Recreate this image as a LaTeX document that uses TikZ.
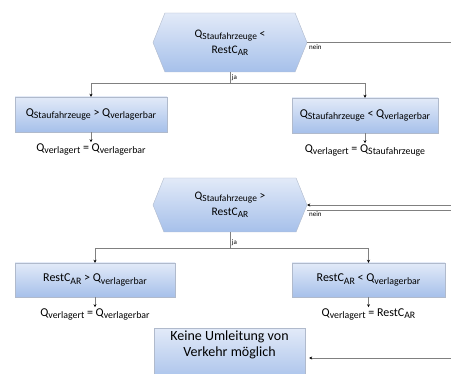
\documentclass[tikz,border=0pt]{standalone}
\usepackage{fontspec}
\setmainfont{Carlito}
\usetikzlibrary{arrows.meta, positioning, shapes.symbols, calc}
\definecolor{boxTop}{RGB}{226,234,248}
\definecolor{boxBot}{RGB}{166,192,234}
\definecolor{boxEdge}{RGB}{176,186,204}
\definecolor{lineGrey}{RGB}{128,128,128}
\makeatletter
\newcommand{\lowidx}[1]{\raisebox{-0.2em}{\fontsize{\the\dimexpr 0.82\dimexpr\f@size pt\relax\relax}{0pt}\selectfont #1}}
\makeatother

\begin{document}
\begin{tikzpicture}[
    x=1pt, y=1pt,
    cond/.style={signal, signal to=west and east, signal pointer angle=136, draw=boxEdge, top color=boxTop, bottom color=boxBot, minimum width=154pt, minimum height=57pt, align=center, inner sep=0pt, font=\fontsize{11.5}{16}\selectfont},
    block/.style={rectangle, draw=boxEdge, top color=boxTop, bottom color=boxBot, minimum height=35pt, align=center, inner sep=0pt, font=\fontsize{12}{14}\selectfont},
    result/.style={inner sep=1pt, font=\fontsize{12}{14}\selectfont},
    tag/.style={inner sep=1.5pt, font=\fontsize{7}{8}\selectfont},
    wire/.style={draw=lineGrey, line width=0.8pt},
    arrow/.style={wire, -{Stealth[length=3pt, width=3pt, color=black]}}
]
\clip (0,0) rectangle (451,374);

% First check
\node[cond, minimum height=59pt] (chkA) at (230,331.5) {Q\lowidx{Staufahrzeuge} <\\RestC\lowidx{AR}};

% Cases of the first check
\node[block, minimum width=152pt] (big1) at (91,259.5) {Q\lowidx{Staufahrzeuge} > Q\lowidx{verlagerbar}};
\node[block, minimum width=146pt] (small1) at (365,258.5) {Q\lowidx{Staufahrzeuge} < Q\lowidx{verlagerbar}};
\node[result, below=10pt of big1] (res1) {Q\lowidx{verlagert} = Q\lowidx{verlagerbar}};
\node[result, below=10pt of small1] (res2) {Q\lowidx{verlagert} = Q\lowidx{Staufahrzeuge}};

% Second check
\node[cond, minimum height=54pt] (chkB) at (230,169) {Q\lowidx{Staufahrzeuge} >\\RestC\lowidx{AR}};

% Cases of the second check
\node[block, minimum width=160pt, minimum height=34pt] (big2) at (95,94) {RestC\lowidx{AR} > Q\lowidx{verlagerbar}};
\node[block, minimum width=153pt, minimum height=34pt] (small2) at (368.5,94) {RestC\lowidx{AR} < Q\lowidx{verlagerbar}};
\node[result, below=10pt of big2] (res3) {Q\lowidx{verlagert} = Q\lowidx{verlagerbar}};
\node[result, below=10pt of small2] (res4) {Q\lowidx{verlagert} = RestC\lowidx{AR}};

% No detour
\node[block, minimum width=151pt, anchor=north, inner ysep=3pt, text depth=24pt, font=\fontsize{14}{15.5}\selectfont] (noway) at (229.5,46) {Keine Umleitung von\\Verkehr möglich};

% Junctions and picture edge
\coordinate (jA) at (230,291);
\coordinate (jB) at (230,126);
\coordinate (rimA) at (451,331.5);
\coordinate (rimBin) at (451,169);
\coordinate (rimBout) at (451,164);
\coordinate (rimC) at (451,16);

% Arrows
\draw[wire] (chkA.south) -- (jA) node[tag, above right] {ja};
\draw[arrow] (jA) -| (big1.north);
\draw[arrow] (jA) -| (small1.north);
\draw[wire] (chkA.east) -- node[tag, pos=0, below right] {nein} (rimA);
\draw[arrow] (big1) -- (res1);
\draw[arrow] (small1) -- (res2);

\draw[arrow] (rimBin) -- (chkB.east);
\draw[wire] ([yshift=-5pt]chkB.east) -- node[tag, pos=0, below right] {nein} (rimBout);
\draw[wire] (chkB.south) -- (jB) node[tag, above right] {ja};
\draw[arrow] (jB) -| (big2.north);
\draw[arrow] (jB) -| (small2.north);
\draw[arrow] (big2) -- (res3);
\draw[arrow] (small2) -- (res4);

\draw[arrow, shorten >=4pt] (rimC) -- (rimC -| noway.east);

\end{tikzpicture}
\end{document}
